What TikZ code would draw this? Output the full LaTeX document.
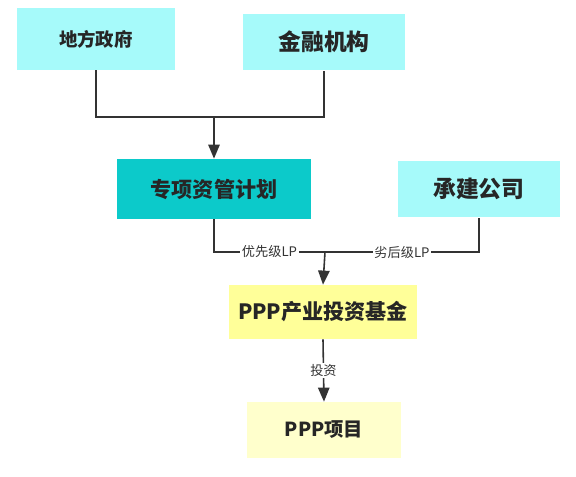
\documentclass[tikz,border=0pt]{standalone}
\usepackage{fontspec}
\setmainfont{Noto Sans CJK SC}
\usepackage{tikz}
\usetikzlibrary{arrows.meta,positioning}
\definecolor{cyanlight}{HTML}{A6FAFA}
\definecolor{tealbox}{HTML}{0CCACA}
\definecolor{yellowbox}{HTML}{FFFF99}
\definecolor{yellowpale}{HTML}{FFFFCC}
\definecolor{linegray}{HTML}{333333}

\tikzset{
  stagebox/.style={inner sep=3pt, align=center, text=black!85, font=\fontsize{12}{14}\selectfont\bfseries},
  link/.style={draw=linegray, line width=0.9pt},
  linkarrow/.style={link, -{Triangle[length=8pt, width=6.5pt]}},
  linklabel/.style={fill=white, inner sep=1pt, font=\fontsize{7.5}{9}\selectfont, text=black!80}
}

\begin{document}
\begin{tikzpicture}[x=0.02cm, y=-0.02cm]
\useasboundingbox (0,0) rectangle (576,477);
% boxes
\node[stagebox, fill=cyanlight, minimum width=3.18cm, minimum height=1.24cm, font=\fontsize{10.5}{12}\selectfont\bfseries] (gov) at (96,39) {地方政府};
\node[stagebox, fill=cyanlight, minimum width=3.24cm, minimum height=1.14cm, font=\fontsize{13}{15}\selectfont\bfseries] (fin) at (324,42) {金融机构};
\node[stagebox, fill=tealbox, minimum width=3.88cm, minimum height=1.2cm] (plan) at (214,189) {专项资管计划};
\node[stagebox, fill=cyanlight, minimum width=3.24cm, minimum height=1.14cm, font=\fontsize{13}{15}\selectfont\bfseries] (build) at (479,189) {承建公司};
\node[stagebox, fill=yellowbox, minimum width=3.78cm, minimum height=1.08cm] (fund) at (323,312) {PPP产业投资基金};
\node[stagebox, fill=yellowpale, minimum width=3.08cm, minimum height=1.12cm, font=\fontsize{11}{13}\selectfont\bfseries] (proj) at (324,430) {PPP项目};
% junctions
\coordinate (jtop) at (214,117);
\coordinate (jmid) at (325,252);
% connectors
\draw[link] (gov.south) |- (jtop) -| (fin.south);
\draw[linkarrow] (jtop) -- (plan.north);
\draw[link] (plan.south) |- node[linklabel, pos=0.75] {优先级LP} (jmid);
\draw[link] (jmid) -| node[linklabel, pos=0.25] {劣后级LP} (build.south);
\draw[linkarrow] (jmid) -- (fund.north);
\draw[linkarrow] (fund.south) -- node[linklabel] {投资} (proj.north);
\end{tikzpicture}
\end{document}
